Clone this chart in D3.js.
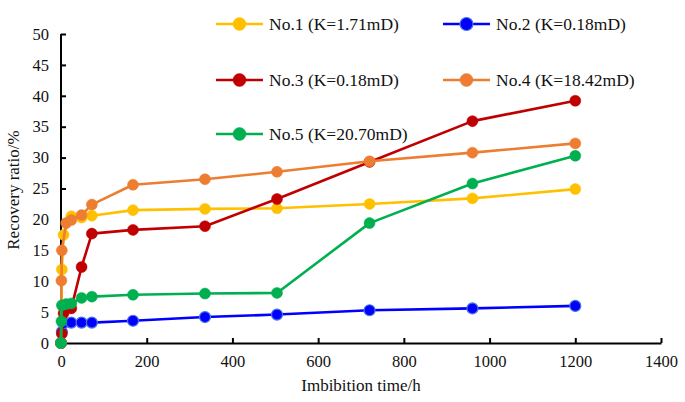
<!DOCTYPE html>
<html><head><meta charset="utf-8">
<script src="https://cdn.jsdelivr.net/npm/d3@7/dist/d3.min.js"></script>
<style>body{margin:0;background:#fff}svg{display:block}</style>
</head><body><svg id="c" width="685" height="402"></svg>
<script>
const times = [0, 1, 2, 6, 12, 24, 48, 72, 168, 336, 504, 720, 960, 1200];
const seriesNames = ["No.1 (K=1.71mD)", "No.2 (K=0.18mD)", "No.3 (K=0.18mD)", "No.4 (K=18.42mD)", "No.5 (K=20.70mD)"];
const no1 = [0, null, 11.9, 17.5, null, 20.5, 20.3, 20.6, 21.5, 21.7, 21.8, 22.5, 23.4, 24.9];
const no2 = [0, null, 1.8, 3.2, null, 3.3, 3.3, 3.3, 3.6, 4.2, 4.6, 5.3, 5.6, 6.0];
const no3 = [0, null, 1.5, 4.8, null, 5.6, 12.3, 17.7, 18.3, 18.9, 23.3, 29.3, 35.9, 39.2];
const no4 = [0, 10.1, 15.0, null, 19.4, 19.9, 20.7, 22.4, 25.6, 26.5, 27.7, 29.4, 30.8, 32.3];
const no5 = [0, 3.5, 6.1, null, 6.3, 6.4, 7.3, 7.5, 7.8, 8.0, 8.1, 19.4, 25.8, 30.3];
const colors = ["#FFC000", "#0000FF", "#C00000", "#ED7D31", "#00B050"];
const xTicks = [0, 200, 400, 600, 800, 1000, 1200, 1400];
const yTicks = [0, 5, 10, 15, 20, 25, 30, 35, 40, 45, 50];

const FONT = "'Liberation Serif', Tinos, 'Times New Roman', Times, serif";
const svg = d3.select("#c").style("font-family", FONT);
const x = d3.scaleLinear().domain([0, 1400]).range([61, 661]);
const y = d3.scaleLinear().domain([0, 50]).range([343, 34]);

const xa = svg.append("g").attr("transform", "translate(0,343)")
  .call(d3.axisBottom(x).tickValues(xTicks).tickFormat(d3.format("d")).tickSizeInner(-5).tickSizeOuter(0).tickPadding(12));
const ya = svg.append("g").attr("transform", "translate(61,0)")
  .call(d3.axisLeft(y).tickValues(yTicks).tickFormat(d3.format("d")).tickSizeInner(-5).tickSizeOuter(0).tickPadding(12));
[xa, ya].forEach(a => {
  a.attr("font-family", null).style("font-family", FONT);
  a.select(".domain").attr("stroke", "#000").attr("stroke-width", 2);
  a.selectAll(".tick line").attr("stroke", "#000").attr("stroke-width", 2);
  a.selectAll(".tick text").style("font-family", FONT).style("font-size", "16.5px").attr("fill", "#111");
});
ya.select(".domain").attr("d", "M0," + y(50) + "V" + y(0));

svg.append("text").attr("x", 361).attr("y", 391).attr("text-anchor", "middle")
  .style("font-family", FONT).style("font-size", "17px").attr("fill", "#111").text("Imbibition time/h");
svg.append("text").attr("transform", "translate(19,190) rotate(-90)").attr("text-anchor", "middle")
  .style("font-family", FONT).style("font-size", "17px").attr("fill", "#111").text("Recovery ratio/%");

const allSeries = [no1, no2, no3, no4, no5];
const line = d3.line().x(d => x(d.t)).y(d => y(d.v));
allSeries.forEach((vals, i) => {
  const pts = times.map((t, j) => ({t, v: vals[j]})).filter(d => d.v != null);
  const g = svg.append("g");
  g.append("path").datum(pts).attr("d", line).attr("fill", "none")
    .attr("stroke", colors[i]).attr("stroke-width", 2.6).attr("stroke-linejoin", "round");
  g.selectAll("circle").data(pts).join("circle")
    .attr("cx", d => x(d.t)).attr("cy", d => y(d.v)).attr("r", 5.5)
    .attr("fill", colors[i])
    .attr("stroke", i === 1 ? "#4a78e0" : colors[i]).attr("stroke-width", i === 1 ? 1.2 : 0.5);
});

const legPos = [[216, 24], [443, 24], [216, 80], [443, 80], [216, 134]];
legPos.forEach((p, i) => {
  const g = svg.append("g").attr("transform", `translate(${p[0]},${p[1]})`);
  g.append("line").attr("x1", 0).attr("x2", 47).attr("stroke", colors[i]).attr("stroke-width", 2.6);
  g.append("circle").attr("cx", 23.5).attr("r", 6.5).attr("fill", colors[i])
    .attr("stroke", i === 1 ? "#4a78e0" : colors[i]).attr("stroke-width", i === 1 ? 1.2 : 0.5);
  g.append("text").attr("x", 53).attr("y", 6).style("font-family", FONT).style("font-size", "17.5px")
    .attr("fill", "#111").text(seriesNames[i]);
});
</script></body></html>
